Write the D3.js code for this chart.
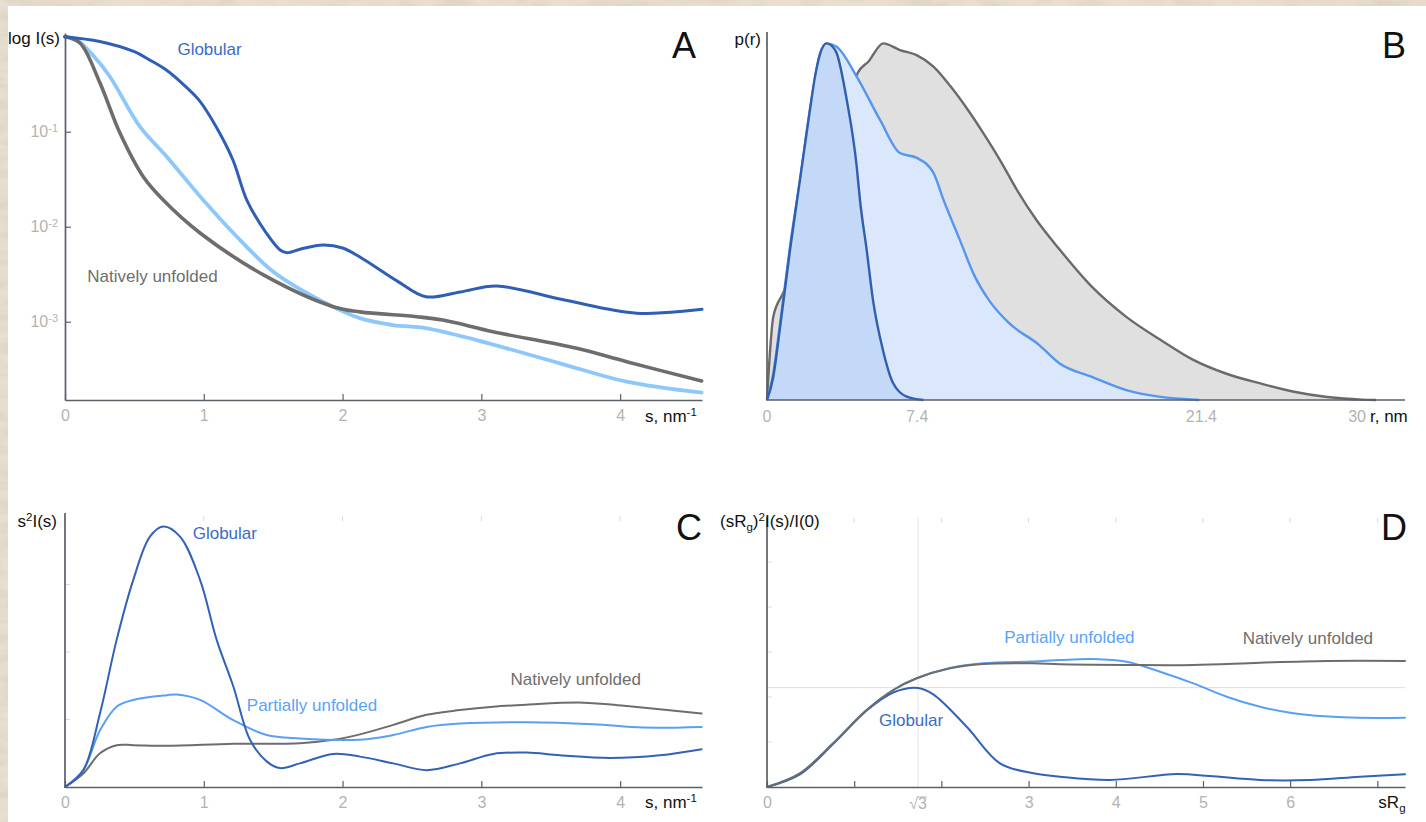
<!DOCTYPE html>
<html>
<head>
<meta charset="utf-8">
<script src="https://cdn.jsdelivr.net/npm/d3@7"></script>
<style>
  html, body { margin: 0; padding: 0; background: #e6ddcc; }
  svg { display: block; }
</style>
</head>
<body>
<svg id="chart" width="1426" height="822"></svg>
<script>
// ---------- Panel A: log I(s) vs s (nm^-1) ----------
const sA_glob = [0, 0.25, 0.5, 0.61, 0.73, 0.85, 0.97, 1.09, 1.21, 1.31, 1.45, 1.55, 1.6, 1.7, 1.86, 2.0, 2.125, 2.4, 2.6, 2.85, 3.11, 3.6, 4.12, 4.59];
const iA_glob = [1.0, 0.89, 0.695, 0.569, 0.446, 0.317, 0.211, 0.112, 0.0504, 0.0191, 0.00859, 0.00569, 0.00532, 0.00582, 0.00641, 0.00597, 0.0048, 0.00264, 0.00183, 0.00206, 0.00238, 0.00169, 0.00123, 0.00135];
const sA_part = [0, 0.084, 0.2, 0.324, 0.54, 0.733, 0.85, 0.996, 1.213, 1.501, 1.837, 2.125, 2.363, 2.606, 2.966, 3.566, 4.047, 4.587];
const iA_part = [1.0, 0.923, 0.641, 0.379, 0.113, 0.0546, 0.0342, 0.0191, 0.00859, 0.00336, 0.00169, 0.00109, 0.000923, 0.000853, 0.000641, 0.000365, 0.000234, 0.000179];
const sA_nat = [0, 0.108, 0.252, 0.396, 0.564, 0.708, 0.973, 1.453, 1.933, 2.125, 2.534, 2.723, 3.084, 3.687, 4.047, 4.587];
const iA_nat = [1.0, 0.858, 0.326, 0.0969, 0.0336, 0.0191, 0.00859, 0.00298, 0.00144, 0.00127, 0.00113, 0.00104, 0.000785, 0.000525, 0.000379, 0.000238];
const sTicks = [0, 1, 2, 3, 4];
const logTicks = [1e-1, 1e-2, 1e-3];

// ---------- Panel B: p(r) vs r (nm) ----------
const rB_glob = [0, 0.3, 0.65, 1.14, 1.63, 2.12, 2.37, 2.61, 2.94, 3.2, 3.43, 3.93, 4.42, 4.58, 4.91, 5.22, 5.71, 6.21, 6.88, 7.7];
const pB_glob = [0, 0.06, 0.2, 0.41, 0.6, 0.79, 0.88, 0.94, 0.969, 0.962, 0.943, 0.815, 0.634, 0.543, 0.408, 0.272, 0.136, 0.046, 0.009, 0];
const rB_part = [0, 0.3, 0.65, 1.14, 1.63, 2.12, 2.61, 2.94, 3.43, 4.42, 5.57, 6.55, 7.38, 8.2, 8.7, 9.5, 10.2, 10.95, 11.9, 13.4, 14.4, 16.0, 17.7, 19.3, 21.3];
const pB_part = [0, 0.07, 0.21, 0.42, 0.6, 0.79, 0.94, 0.969, 0.96, 0.879, 0.761, 0.671, 0.658, 0.617, 0.543, 0.435, 0.34, 0.27, 0.21, 0.15, 0.10, 0.063, 0.027, 0.009, 0];
const rB_nat = [0, 0.31, 0.79, 1.5, 2.5, 3.5, 4.48, 5.0, 5.73, 6.55, 7.37, 8.2, 9.03, 9.85, 10.6, 11.5, 12.3, 13.3, 14.4, 16.0, 17.7, 19.4, 21.0, 22.6, 24.3, 25.9, 27.6, 29.3, 30.0];
const pB_nat = [0, 0.226, 0.29, 0.38, 0.52, 0.70, 0.89, 0.92, 0.969, 0.951, 0.937, 0.906, 0.853, 0.792, 0.730, 0.650, 0.572, 0.487, 0.410, 0.308, 0.226, 0.163, 0.109, 0.072, 0.045, 0.023, 0.008, 0.001, 0];
const rTickLabels = [0, 7.4, 21.4, 30];

// ---------- Panel C: Kratky plot s^2 I(s) ----------
const sC_glob = [0, 0.132, 0.252, 0.372, 0.492, 0.612, 0.708, 0.829, 0.973, 1.093, 1.213, 1.333, 1.453, 1.549, 1.693, 1.933, 2.125, 2.365, 2.606, 2.846, 3.086, 3.326, 3.566, 3.927, 4.287, 4.587];
const vC_glob = [0, 0.25, 1.09, 2.18, 3.07, 3.71, 3.86, 3.71, 3.07, 2.18, 1.49, 0.70, 0.38, 0.28, 0.35, 0.49, 0.45, 0.35, 0.25, 0.35, 0.49, 0.51, 0.47, 0.43, 0.47, 0.56];
const sC_part = [0, 0.132, 0.252, 0.372, 0.492, 0.733, 0.805, 0.973, 1.213, 1.453, 1.693, 2.125, 2.365, 2.606, 2.846, 3.326, 3.806, 4.166, 4.587];
const vC_part = [0, 0.25, 0.84, 1.19, 1.29, 1.36, 1.37, 1.29, 0.99, 0.77, 0.72, 0.70, 0.77, 0.89, 0.94, 0.96, 0.93, 0.88, 0.89];
const sC_nat = [0, 0.132, 0.252, 0.372, 0.492, 0.733, 1.213, 1.693, 1.933, 2.125, 2.365, 2.606, 2.846, 3.086, 3.326, 3.734, 4.047, 4.587];
const vC_nat = [0, 0.20, 0.50, 0.62, 0.62, 0.61, 0.64, 0.65, 0.70, 0.78, 0.92, 1.07, 1.14, 1.19, 1.22, 1.25, 1.20, 1.09];
const cYTicks = [1, 2, 3];

// ---------- Panel D: dimensionless Kratky (sRg)^2 I(s)/I(0) ----------
const tD_glob = [0, 0.378, 0.76, 1.143, 1.448, 1.732, 1.907, 2.29, 2.672, 3.054, 3.36, 3.933, 4.698, 5.076, 5.654, 6.227, 6.8, 7.317];
const vD_glob = [0, 0.14, 0.48, 0.85, 1.05, 1.1, 1.03, 0.67, 0.263, 0.152, 0.114, 0.078, 0.144, 0.122, 0.078, 0.078, 0.114, 0.141];
const tD_part = [0, 0.378, 0.76, 1.143, 1.448, 1.717, 2.099, 2.48, 3.054, 3.36, 3.742, 4.125, 4.507, 4.889, 5.272, 5.654, 6.036, 6.609, 7.317];
const vD_part = [0, 0.152, 0.486, 0.856, 1.078, 1.208, 1.322, 1.375, 1.395, 1.411, 1.422, 1.392, 1.281, 1.152, 1.003, 0.892, 0.819, 0.774, 0.77];
const tD_nat = [0, 0.378, 0.76, 1.143, 1.448, 1.717, 2.099, 2.48, 3.054, 3.36, 4.125, 4.889, 5.654, 6.419, 7.317];
const vD_nat = [0, 0.152, 0.486, 0.856, 1.078, 1.208, 1.319, 1.367, 1.374, 1.363, 1.356, 1.356, 1.381, 1.4, 1.4];
const dXTicks = [0, 1, 2, 3, 4, 5, 6, 7];
const dXLabelled = [0, 3, 4, 5, 6];
const dYTicks = [0.5, 1, 1.5, 2, 2.5];
const guinierPeak = 3 / Math.E;   // value of the Guinier curve at sRg = sqrt(3)

// ---------- styling ----------
const FONT = '"Liberation Sans", Arial, Helvetica, sans-serif';
const AXIS = "#5b5f67";
const TICK_TXT = "#b3b3b3";
const FAINT = "#dcdcdc";
const C_GLOB = "#3262b6";
const C_GLOB_A = "#2e5fb5";
const C_PART = "#5a9ff4";
const C_PART_A = "#8ec8fb";
const C_NAT = "#6d6d6d";
const T_GLOB = "#3a6cc6";
const T_PART = "#5aa3f7";
const T_NAT = "#6e6e6e";

const W = 1426, H = 822;
const svg = d3.select("#chart");

// paper backdrop with a white sheet on top
const defs = svg.append("defs");
const paper = defs.append("filter").attr("id", "paper")
  .attr("x", 0).attr("y", 0).attr("width", "100%").attr("height", "100%");
paper.append("feTurbulence").attr("type", "fractalNoise")
  .attr("baseFrequency", "0.03 0.09").attr("numOctaves", 4).attr("seed", 7).attr("result", "n");
paper.append("feColorMatrix").attr("in", "n").attr("type", "matrix")
  .attr("values", "0 0 0 0 0.62  0 0 0 0 0.56  0 0 0 0 0.46  0 0 0 1.4 -0.45");
svg.append("rect").attr("width", W).attr("height", H).attr("fill", "#e7dfcf");
svg.append("rect").attr("width", W).attr("height", H).attr("filter", "url(#paper)").attr("opacity", 0.55);
svg.append("rect").attr("x", 8).attr("y", 6).attr("width", W - 8).attr("height", H - 6).attr("fill", "#ffffff");

// ---------- scales ----------
const xA = d3.scaleLinear().domain([0, 4.59]).range([65, 702]);
const yA = d3.scaleLog().domain([Math.pow(10, -3.824), Math.pow(10, 0.039)]).range([400, 33]);
const xB = d3.scaleLinear().domain([0, 31.43]).range([767, 1405]);
const yB = d3.scaleLinear().domain([0, 1]).range([400, 32]);
const xC = d3.scaleLinear().domain([0, 4.59]).range([65, 702]);
const yC = d3.scaleLinear().domain([0, 4.06]).range([787, 513]);
const xD = d3.scaleLinear().domain([0, 7.317]).range([767, 1405]);
const yD = d3.scaleLinear().domain([0, 3.0]).range([787, 517]);

const zip = (a, b) => a.map((v, i) => [v, b[i]]);

function drawLine(xs, ys, x, y, color, width) {
  svg.append("path").datum(zip(xs, ys))
    .attr("fill", "none").attr("stroke", color).attr("stroke-width", width)
    .attr("stroke-linejoin", "round").attr("stroke-linecap", "round")
    .attr("d", d3.line().x(d => x(d[0])).y(d => y(d[1])).curve(d3.curveCatmullRom.alpha(0.5)));
}

function drawArea(xs, ys, x, y, fill, color, width) {
  const pts = zip(xs, ys);
  svg.append("path").datum(pts).attr("fill", fill).attr("stroke", "none")
    .attr("d", d3.area().x(d => x(d[0])).y0(y(0)).y1(d => y(d[1])).curve(d3.curveMonotoneX));
  svg.append("path").datum(pts).attr("fill", "none").attr("stroke", color).attr("stroke-width", width)
    .attr("stroke-linejoin", "round")
    .attr("d", d3.line().x(d => x(d[0])).y(d => y(d[1])).curve(d3.curveMonotoneX));
}

function styleAxis(g) {
  g.attr("font-family", FONT).attr("font-size", 16);
  g.select(".domain").attr("stroke", AXIS).attr("stroke-width", 1.7);
  g.selectAll(".tick line").attr("stroke", AXIS).attr("stroke-width", 1.2);
  g.selectAll(".tick text").attr("fill", TICK_TXT);
}

// text with optional raised / lowered pieces: parts are strings or {sup} / {sub}
function label(x, y, parts, opts = {}) {
  const t = svg.append("text").attr("x", x).attr("y", y)
    .attr("font-family", FONT).attr("font-size", opts.size || 17)
    .attr("fill", opts.color || "#111").attr("text-anchor", opts.anchor || "start");
  let back = 0;
  parts.forEach(p => {
    if (typeof p === "string") {
      const ts = t.append("tspan").text(p);
      if (back) ts.attr("dy", back);
      back = 0;
      return;
    }
    const shift = p.sup ? -6 : 4;
    t.append("tspan").attr("dy", shift + back).attr("font-size", 11.5).text(p.sup || p.sub);
    back = -shift;
  });
  return t;
}

function faintTicksY(x0, ticks, y) {
  svg.append("g").selectAll("line").data(ticks).join("line")
    .attr("x1", x0).attr("x2", x0 + 5).attr("y1", d => y(d)).attr("y2", d => y(d))
    .attr("stroke", FAINT).attr("stroke-width", 1);
}
function faintTicksTop(ticks, x, yTop) {
  svg.append("g").selectAll("line").data(ticks).join("line")
    .attr("x1", d => x(d)).attr("x2", d => x(d)).attr("y1", yTop).attr("y2", yTop + 5)
    .attr("stroke", FAINT).attr("stroke-width", 1);
}

// ================= Panel A =================
drawLine(sA_part, iA_part, xA, yA, C_PART_A, 3.8);
drawLine(sA_nat, iA_nat, xA, yA, C_NAT, 3.6);
drawLine(sA_glob, iA_glob, xA, yA, C_GLOB_A, 3.0);

svg.append("g").attr("transform", `translate(0,${yA.range()[0]})`)
  .call(d3.axisBottom(xA).tickValues(sTicks).tickSizeInner(-6).tickSizeOuter(0).tickPadding(10).tickFormat(d3.format("d")))
  .call(styleAxis);
svg.append("g").attr("transform", `translate(${xA.range()[0]},0)`)
  .call(d3.axisLeft(yA).tickValues(logTicks).tickSizeInner(-6).tickSizeOuter(0).tickPadding(7))
  .call(styleAxis)
  .call(g => g.selectAll(".tick text").text(null).each(function (d) {
    const t = d3.select(this);
    t.append("tspan").text("10");
    t.append("tspan").attr("dy", "-0.45em").attr("font-size", 11).text(String(Math.round(Math.log10(d))));
  }));

label(60, 44, ["log I(s)"], { anchor: "end" });
label(645, 421.7, ["s, nm", { sup: "-1" }]);
label(xA(0.81), yA(0.64), ["Globular"], { color: T_GLOB });
label(xA(0.16), yA(0.00262), ["Natively unfolded"], { color: T_NAT });
label(684, 58, ["A"], { size: 36, anchor: "middle" });

// ================= Panel B =================
drawArea(rB_nat, pB_nat, xB, yB, "#e0e0e0", "#6a6a6a", 2.4);
drawArea(rB_part, pB_part, xB, yB, "#dbe7fb", "#5596ee", 2.4);
drawArea(rB_glob, pB_glob, xB, yB, "#c4d8f7", "#2f5fae", 2.4);

svg.append("path").attr("fill", "none").attr("stroke", AXIS).attr("stroke-width", 1.7)
  .attr("d", `M${xB.range()[0]},${yB.range()[1]}V${yB.range()[0]}H${xB.range()[1]}`);
svg.append("g").attr("font-family", FONT).attr("font-size", 16).attr("fill", TICK_TXT)
  .selectAll("text").data(rTickLabels).join("text")
  .attr("x", d => d === 30 ? xB(d) - 10 : xB(d))
  .attr("y", yB(0) + 21.5)
  .attr("text-anchor", d => d === 30 ? "end" : "middle")
  .text(d => d);
label(761, 45, ["p(r)"], { anchor: "end" });
label(1370, 421.7, ["r, nm"]);
label(1394, 58, ["B"], { size: 36, anchor: "middle" });

// ================= Panel C =================
faintTicksY(xC.range()[0], cYTicks, yC);
faintTicksTop([1, 2, 3, 4], xC, yC.range()[1] + 3);
drawLine(sC_nat, vC_nat, xC, yC, C_NAT, 2.0);
drawLine(sC_part, vC_part, xC, yC, C_PART, 2.0);
drawLine(sC_glob, vC_glob, xC, yC, C_GLOB, 2.0);

svg.append("g").attr("transform", `translate(0,${yC.range()[0]})`)
  .call(d3.axisBottom(xC).tickValues(sTicks).tickSizeInner(-6).tickSizeOuter(0).tickPadding(10).tickFormat(d3.format("d")))
  .call(styleAxis);
svg.append("path").attr("stroke", AXIS).attr("stroke-width", 1.7)
  .attr("d", `M${xC.range()[0]},${yC.range()[1]}V${yC.range()[0]}`);

label(57, 527, ["s", { sup: "2" }, "I(s)"], { anchor: "end" });
label(645, 808, ["s, nm", { sup: "-1" }]);
label(xC(0.92), yC(3.67), ["Globular"], { color: T_GLOB });
label(xC(1.31), yC(1.12), ["Partially unfolded"], { color: T_PART });
label(xC(3.21), yC(1.51), ["Natively unfolded"], { color: T_NAT });
label(689, 540, ["C"], { size: 36, anchor: "middle" });

// ================= Panel D =================
faintTicksY(xD.range()[0], dYTicks, yD);
faintTicksTop([1, 2, 3, 4, 5, 6, 7], xD, yD.range()[1] + 1);
svg.append("line").attr("x1", xD(Math.sqrt(3))).attr("x2", xD(Math.sqrt(3)))
  .attr("y1", yD.range()[1]).attr("y2", yD(0)).attr("stroke", "#e6e6e6").attr("stroke-width", 1);
svg.append("line").attr("x1", xD.range()[0]).attr("x2", xD.range()[1])
  .attr("y1", yD(guinierPeak)).attr("y2", yD(guinierPeak)).attr("stroke", "#dedede").attr("stroke-width", 1);

drawLine(tD_part, vD_part, xD, yD, C_PART, 2.0);
drawLine(tD_glob, vD_glob, xD, yD, C_GLOB, 2.0);
drawLine(tD_nat, vD_nat, xD, yD, C_NAT, 2.0);

svg.append("g").attr("transform", `translate(0,${yD.range()[0]})`)
  .call(d3.axisBottom(xD).tickValues(dXTicks).tickSizeInner(-6).tickSizeOuter(0).tickPadding(10).tickFormat(d3.format("d")))
  .call(styleAxis)
  .call(g => g.selectAll(".tick text").filter(d => !dXLabelled.includes(d)).remove());
svg.append("path").attr("stroke", AXIS).attr("stroke-width", 1.7)
  .attr("d", `M${xD.range()[0]},${yD.range()[1]}V${yD.range()[0]}`);

// sqrt(3) tick label with a bar over the radicand
const sq = svg.append("text").attr("x", xD(Math.sqrt(3))).attr("y", yD(0) + 21.5)
  .attr("font-family", FONT).attr("font-size", 16).attr("fill", TICK_TXT)
  .attr("text-anchor", "middle").text("\u221a3");
const ext = sq.node().getExtentOfChar(1);
svg.append("line").attr("x1", ext.x - 0.5).attr("x2", ext.x + ext.width)
  .attr("y1", ext.y + 2.5).attr("y2", ext.y + 2.5)
  .attr("stroke", TICK_TXT).attr("stroke-width", 1);

label(720, 527, ["(sR", { sub: "g" }, ")", { sup: "2" }, "I(s)/I(0)"]);
label(xD(7) + 1, 808, ["sR", { sub: "g" }]);
label(xD(2.72), yD(1.597), ["Partially unfolded"], { color: T_PART });
label(xD(5.455), yD(1.589), ["Natively unfolded"], { color: T_NAT });
label(xD(1.284), yD(0.678), ["Globular"], { color: T_GLOB });
label(1394, 540, ["D"], { size: 36, anchor: "middle" });
</script>
</body>
</html>
